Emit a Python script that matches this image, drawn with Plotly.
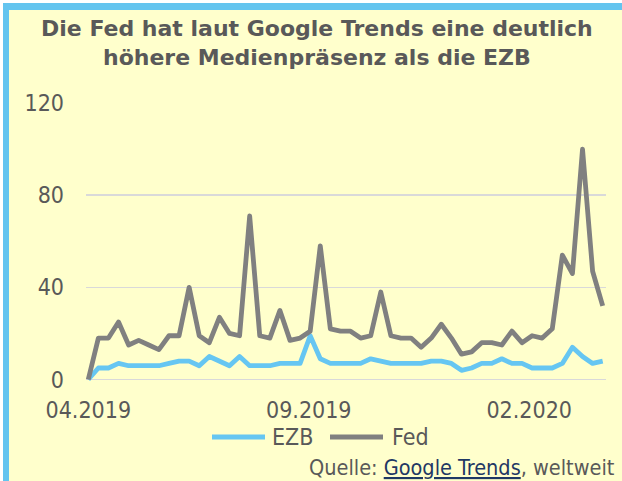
import pandas as pd
import plotly.graph_objects as go

# ---- data -------------------------------------------------------------
weeks = pd.date_range("2019-04-07", periods=52, freq="7D")
ezb = [0, 5, 5, 7, 6, 6, 6, 6, 7, 8,
       8, 6, 10, 8, 6, 10, 6, 6, 6, 7,
       7, 7, 19, 9, 7, 7, 7, 7, 9, 8,
       7, 7, 7, 7, 8, 8, 7, 4, 5, 7,
       7, 9, 7, 7, 5, 5, 5, 7, 14, 10,
       7, 8]
fed = [0, 18, 18, 25, 15, 17, 15, 13, 19, 19,
       40, 19, 16, 27, 20, 19, 71, 19, 18, 30,
       17, 18, 21, 58, 22, 21, 21, 18, 19, 38,
       19, 18, 18, 14, 18, 24, 18, 11, 12, 16,
       16, 15, 21, 16, 19, 18, 22, 54, 46, 100,
       47, 32]
series_names = ["EZB", "Fed"]
x_tick_vals = ["2019-04-07", "2019-09-07", "2020-02-07"]
x_tick_text = ["04.2019", "09.2019", "02.2020"]
y_tick_vals = [0, 40, 80, 120]

# ---- style ------------------------------------------------------------
BG = "#FFFFCC"
FRAME = "#63C4EF"
EZB_C = "#66C6F2"
FED_C = "#808080"
TXT = "#595959"
GRID = "#D9D9D9"
LINK = "#1F3864"
FONT = "DejaVu Sans Condensed, DejaVu Sans, sans-serif"
TFONT = "DejaVu Sans, sans-serif"

W, H = 622, 481
ML, MR, MT, MB = 86, 16, 103, 98
PW, PH = W - ML - MR, H - MT - MB


def px_x(px):
    return (px - ML) / PW


def px_y(py):
    return (H - MB - py) / PH


colors = [EZB_C, FED_C]
fig = go.Figure()
for name, vals, col in zip(series_names, [ezb, fed], colors):
    fig.add_trace(go.Scatter(x=weeks, y=vals, mode="lines", name=name,
                             line=dict(color=col, width=4.8),
                             showlegend=False, hoverinfo="skip"))

x_lo = weeks[0] - pd.Timedelta(hours=38)
x_hi = weeks[-1] + pd.Timedelta(hours=55)

shapes = [
    dict(type="rect", xref="paper", yref="paper", x0=px_x(0), x1=px_x(W),
         y0=px_y(0), y1=px_y(3), fillcolor="white", line=dict(width=0)),
    dict(type="rect", xref="paper", yref="paper", x0=px_x(0), x1=px_x(3),
         y0=px_y(0), y1=px_y(H), fillcolor="white", line=dict(width=0)),
    dict(type="rect", xref="paper", yref="paper", x0=px_x(3), x1=px_x(9),
         y0=px_y(3), y1=px_y(H), fillcolor=FRAME, line=dict(width=0)),
    dict(type="rect", xref="paper", yref="paper", x0=px_x(3), x1=px_x(W),
         y0=px_y(3), y1=px_y(10), fillcolor=FRAME, line=dict(width=0)),
]

annotations = [
    dict(text="<b>Die Fed hat laut Google Trends eine deutlich<br>höhere Medienpräsenz als die EZB</b>",
         xref="paper", yref="paper", x=px_x(317), y=px_y(14),
         xanchor="center", yanchor="top", showarrow=False,
         font=dict(family=TFONT, size=22, color=TXT)),
    dict(text=f"Quelle: <span style='color:{LINK}'><u>Google Trends</u></span>, weltweit",
         xref="paper", yref="paper", x=px_x(617), y=px_y(467),
         xanchor="right", yanchor="middle", showarrow=False,
         font=dict(size=21.5, color=TXT, family=FONT)),
]

# custom legend (line sample + label)
legend_x = [(212, 265, 270), (330, 383, 390)]
for (lx0, lx1, tx), name, col in zip(legend_x, series_names, colors):
    shapes.append(dict(type="line", xref="paper", yref="paper",
                       x0=px_x(lx0), x1=px_x(lx1), y0=px_y(437), y1=px_y(437),
                       line=dict(color=col, width=5)))
    annotations.append(dict(text=name, xref="paper", yref="paper",
                            x=px_x(tx), y=px_y(437), xanchor="left",
                            yanchor="middle", showarrow=False,
                            font=dict(size=23, color=TXT, family=FONT)))

fig.update_layout(
    width=W, height=H,
    margin=dict(l=ML, r=MR, t=MT, b=MB),
    paper_bgcolor=BG, plot_bgcolor=BG,
    font=dict(family=FONT, color=TXT, size=23),
    xaxis=dict(type="date", range=[x_lo, x_hi], tickvals=x_tick_vals,
               ticktext=x_tick_text, showgrid=False, zeroline=False,
               showline=False, ticks="", ticklabelstandoff=11,
               tickfont=dict(size=23, color=TXT)),
    yaxis=dict(range=[-1.5, 120], tickvals=y_tick_vals, showgrid=True,
               gridcolor=GRID, gridwidth=1.5, zeroline=False, showline=False,
               ticks="", ticklabelstandoff=21,
               tickfont=dict(size=23, color=TXT)),
    showlegend=False,
    hovermode=False,
    shapes=shapes,
    annotations=annotations,
)

fig.write_html(
    "out.html",
    config={"displayModeBar": False, "staticPlot": True},
    post_script=(
        "document.body.style.margin='0';"
        "document.querySelectorAll('.scatterlayer .js-line').forEach("
        "function(p){p.style.strokeLinejoin='round';});"
    ),
)
